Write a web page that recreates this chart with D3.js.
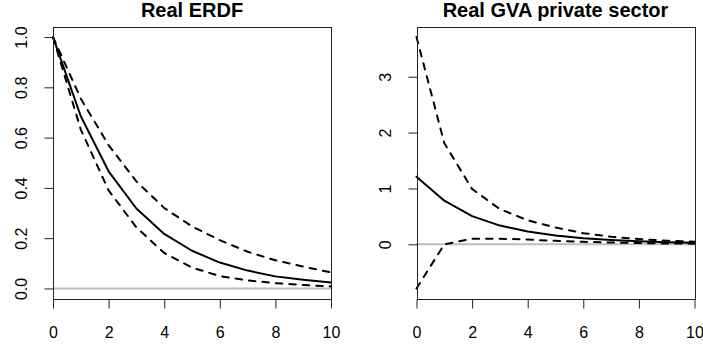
<!DOCTYPE html>
<html>
<head>
<meta charset="utf-8">
<script src="https://cdn.jsdelivr.net/npm/d3@7"></script>
<style>
  html, body { margin: 0; padding: 0; background: #fff; }
  svg { display: block; }
  text { font-family: "Liberation Sans", Arial, Helvetica, sans-serif; fill: #000; }
</style>
</head>
<body>
<svg id="chart" width="703" height="347"></svg>
<script>
// Impulse-response horizons (years)
const horizons = [0, 1, 2, 3, 4, 5, 6, 7, 8, 9, 10];
const xTicks = [0, 2, 4, 6, 8, 10];

// Real ERDF: median response with upper/lower bands
const erdfMedian = [1.0, 0.685, 0.466, 0.318, 0.217, 0.150, 0.103, 0.071, 0.048, 0.035, 0.024];
const erdfUpper  = [1.0, 0.755, 0.570, 0.426, 0.320, 0.247, 0.192, 0.146, 0.112, 0.087, 0.064];
const erdfLower  = [1.0, 0.632, 0.390, 0.243, 0.141, 0.083, 0.049, 0.032, 0.021, 0.014, 0.008];
const erdfYTicks = [0.0, 0.2, 0.4, 0.6, 0.8, 1.0];

// Real GVA private sector: median response with upper/lower bands
const gvaMedian = [1.21, 0.78, 0.505, 0.335, 0.228, 0.158, 0.110, 0.077, 0.053, 0.037, 0.026];
const gvaUpper  = [3.71, 1.81, 0.99, 0.63, 0.43, 0.30, 0.20, 0.135, 0.095, 0.065, 0.045];
const gvaLower  = [-0.79, 0.0, 0.10, 0.10, 0.085, 0.062, 0.045, 0.032, 0.022, 0.015, 0.010];
const gvaYTicks = [0, 1, 2, 3];

const panels = [
  { title: "Real ERDF", median: erdfMedian, upper: erdfUpper, lower: erdfLower,
    yTicks: erdfYTicks, fmt: d3.format(".1f"), box: { x0: 53, x1: 331, y0: 27, y1: 298.5 } },
  { title: "Real GVA private sector", median: gvaMedian, upper: gvaUpper, lower: gvaLower,
    yTicks: gvaYTicks, fmt: d3.format("d"), box: { x0: 416.5, x1: 694.5, y0: 27, y1: 298.5 } }
];

const svg = d3.select("#chart");

panels.forEach(p => {
  const b = p.box;
  const x = d3.scaleLinear().domain([0, 10]).range([b.x0, b.x1]);

  // y range padded by 4% on each side of the data extent
  const all = p.median.concat(p.upper, p.lower, [0]);
  const lo = d3.min(all), hi = d3.max(all), pad = (hi - lo) * 0.04;
  const y = d3.scaleLinear().domain([lo - pad, hi + pad]).range([b.y1, b.y0]);

  const g = svg.append("g");

  // zero reference line
  g.append("line")
    .attr("x1", b.x0).attr("x2", b.x1)
    .attr("y1", y(0)).attr("y2", y(0))
    .attr("stroke", "#bebebe").attr("stroke-width", 2);

  const line = d3.line().x((d, i) => x(horizons[i])).y(d => y(d));

  [p.upper, p.lower].forEach(series => {
    g.append("path").datum(series)
      .attr("d", line)
      .attr("fill", "none").attr("stroke", "#000")
      .attr("stroke-width", 2)
      .attr("stroke-linecap", "round")
      .attr("stroke-dasharray", "6.5,7");
  });

  g.append("path").datum(p.median)
    .attr("d", line)
    .attr("fill", "none").attr("stroke", "#000")
    .attr("stroke-width", 2)
    .attr("stroke-linejoin", "round")
    .attr("stroke-linecap", "round");

  // plot frame
  g.append("rect")
    .attr("x", Math.round(b.x0) + 0.5).attr("y", Math.round(b.y0) + 0.5)
    .attr("width", Math.round(b.x1) - Math.round(b.x0))
    .attr("height", Math.round(b.y1) - Math.round(b.y0))
    .attr("fill", "none").attr("stroke", "#222").attr("stroke-width", 1);

  // x axis
  const xAxis = d3.axisBottom(x).tickValues(xTicks).tickSize(9).tickPadding(18)
    .tickFormat(d3.format("d"));
  const gx = g.append("g")
    .attr("transform", `translate(0,${Math.round(b.y1) + 0.5})`)
    .call(xAxis);
  gx.attr("font-size", null).attr("font-family", null);
  gx.select(".domain").remove();
  gx.selectAll(".tick line").attr("stroke", "#222");
  gx.selectAll(".tick text")
    .style("font-size", "16px").attr("fill", "#000");

  // y axis with rotated labels
  const yAxis = d3.axisLeft(y).tickValues(p.yTicks).tickSize(9).tickFormat(p.fmt);
  const gy = g.append("g")
    .attr("transform", `translate(${Math.round(b.x0) + 0.5},0)`)
    .call(yAxis);
  gy.attr("font-size", null).attr("font-family", null);
  gy.select(".domain").remove();
  gy.selectAll(".tick line").attr("stroke", "#222");
  gy.selectAll(".tick text")
    .style("font-size", "16px").attr("fill", "#000")
    .attr("x", 0).attr("dy", 0)
    .attr("text-anchor", "middle")
    .attr("transform", "translate(-27,0) rotate(-90)");

  // title
  svg.append("text")
    .attr("x", (b.x0 + b.x1) / 2).attr("y", 17)
    .attr("text-anchor", "middle")
    .style("font-size", "20px").style("font-weight", "bold")
    .text(p.title);
});
</script>
</body>
</html>
